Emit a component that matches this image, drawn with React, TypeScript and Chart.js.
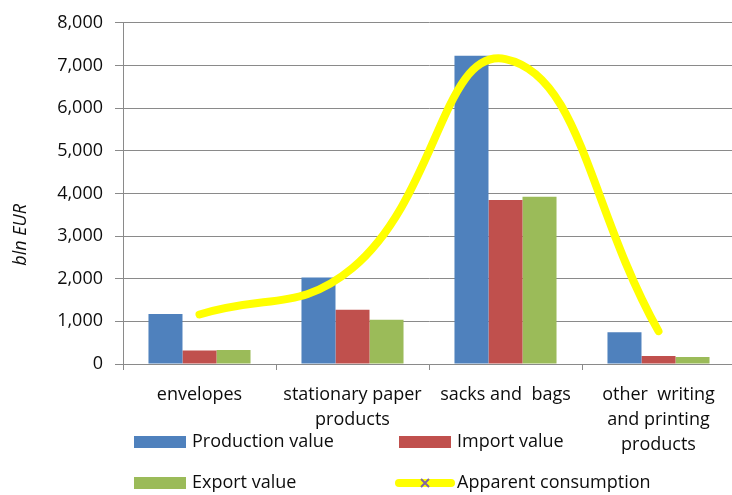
import React, { useEffect, useRef } from "react";
import { Chart, registerables } from "chart.js";

Chart.register(...registerables);

const categories: string[][] = [
  ["envelopes"],
  ["stationary paper", "products"],
  ["sacks and  bags"],
  ["other  writing", "and printing", "products"],
];
const productionValue = [1170, 2030, 7230, 747];
const importValue = [316, 1270, 3845, 185];
const exportValue = [330, 1040, 3924, 162];
const apparentConsumption = [1160, 2250, 7150, 770];
const yTicks = [0, 1000, 2000, 3000, 4000, 5000, 6000, 7000, 8000];

const FONT = '"Open Sans", "Liberation Sans", sans-serif';
const TEXT = "#0d0d0d";
const GRID = "#8a8a8a";
const BLUE = "#4F81BD";
const RED = "#C0504D";
const GREEN = "#9BBB59";
const YELLOW = "#FFFF00";
const PURPLE = "#8064A2";

// Rotated axis title and the two-column legend under the category labels
const decorations = {
  id: "decorations",
  afterDraw(chart: any) {
    const { ctx, chartArea } = chart;
    ctx.save();
    ctx.fillStyle = TEXT;
    ctx.font = `italic 18px ${FONT}`;
    ctx.textAlign = "center";
    ctx.textBaseline = "middle";
    ctx.translate(21, chartArea.top + 212);
    ctx.rotate(-Math.PI / 2);
    ctx.fillText("bln EUR", 0, 0);
    ctx.restore();

    const ds = chart.data.datasets;
    const col1 = chartArea.left + 11;
    const col2 = chartArea.left + 276;
    const row1 = chartArea.bottom + 78;
    const row2 = chartArea.bottom + 119;
    const items = [
      { i: 0, x: col1, y: row1 },
      { i: 1, x: col2, y: row1 },
      { i: 2, x: col1, y: row2 },
      { i: 3, x: col2, y: row2 },
    ];
    ctx.save();
    ctx.font = `18px ${FONT}`;
    ctx.textBaseline = "middle";
    ctx.textAlign = "left";
    for (const it of items) {
      const d = ds[it.i];
      if (d.type === "line") {
        ctx.strokeStyle = d.borderColor;
        ctx.lineWidth = 8;
        ctx.lineCap = "round";
        ctx.beginPath();
        ctx.moveTo(it.x, it.y);
        ctx.lineTo(it.x + 52, it.y);
        ctx.stroke();
        ctx.strokeStyle = PURPLE;
        ctx.lineWidth = 2;
        ctx.lineCap = "butt";
        const cx = it.x + 26;
        ctx.beginPath();
        ctx.moveTo(cx - 4, it.y - 4);
        ctx.lineTo(cx + 4, it.y + 4);
        ctx.moveTo(cx + 4, it.y - 4);
        ctx.lineTo(cx - 4, it.y + 4);
        ctx.stroke();
      } else {
        ctx.fillStyle = d.backgroundColor;
        ctx.fillRect(it.x, it.y - 6, 52, 12);
      }
      ctx.fillStyle = TEXT;
      ctx.fillText(d.label, it.x + 58, it.y);
    }
    ctx.restore();
  },
};

export default function App() {
  const ref = useRef<HTMLCanvasElement | null>(null);

  useEffect(() => {
    if (!ref.current) return;
    const chart = new Chart(ref.current, {
      type: "bar",
      data: {
        labels: categories,
        datasets: [
          {
            type: "bar",
            label: "Production value",
            data: productionValue,
            backgroundColor: BLUE,
            order: 1,
            categoryPercentage: 0.667,
            barPercentage: 1,
          },
          {
            type: "bar",
            label: "Import value",
            data: importValue,
            backgroundColor: RED,
            order: 1,
            categoryPercentage: 0.667,
            barPercentage: 1,
          },
          {
            type: "bar",
            label: "Export value",
            data: exportValue,
            backgroundColor: GREEN,
            order: 1,
            categoryPercentage: 0.667,
            barPercentage: 1,
          },
          {
            type: "line",
            label: "Apparent consumption",
            data: apparentConsumption,
            borderColor: YELLOW,
            backgroundColor: YELLOW,
            borderWidth: 8,
            borderCapStyle: "round",
            borderJoinStyle: "round",
            tension: 0.45,
            pointRadius: 0,
            fill: false,
            order: 0,
          },
        ],
      } as any,
      options: {
        responsive: false,
        animation: false,
        layout: { padding: { top: 18, right: 1, left: 0, bottom: 0 } },
        plugins: {
          legend: { display: false },
          tooltip: { enabled: false },
        },
        scales: {
          x: {
            grid: {
              display: true,
              drawOnChartArea: false,
              offset: true,
              tickLength: 6,
              color: GRID,
            },
            border: { color: GRID, width: 1 },
            ticks: {
              color: TEXT,
              autoSkip: false,
              maxRotation: 0,
              padding: 12,
              font: { family: FONT, size: 18, lineHeight: 1.39 },
            },
            afterFit(scale: any) {
              scale.height = 131;
            },
          },
          y: {
            min: 0,
            max: 8000,
            afterBuildTicks(scale: any) {
              scale.ticks = yTicks.map((v) => ({ value: v }));
            },
            grid: { color: GRID, tickLength: 8, lineWidth: 1 },
            border: { color: GRID, width: 1 },
            ticks: {
              color: TEXT,
              padding: 12,
              font: { family: FONT, size: 18 },
              callback: (v: any) => Number(v).toLocaleString("en-US"),
            },
            afterFit(scale: any) {
              scale.width = 123;
            },
          },
        },
      },
      plugins: [decorations],
    });
    return () => chart.destroy();
  }, []);

  return (
    <div
      style={{
        position: "absolute",
        left: 0,
        top: 0,
        width: 732,
        height: 495,
        overflow: "hidden",
        background: "#ffffff",
      }}
    >
      <canvas ref={ref} width={736} height={495} style={{ display: "block" }} />
    </div>
  );
}
